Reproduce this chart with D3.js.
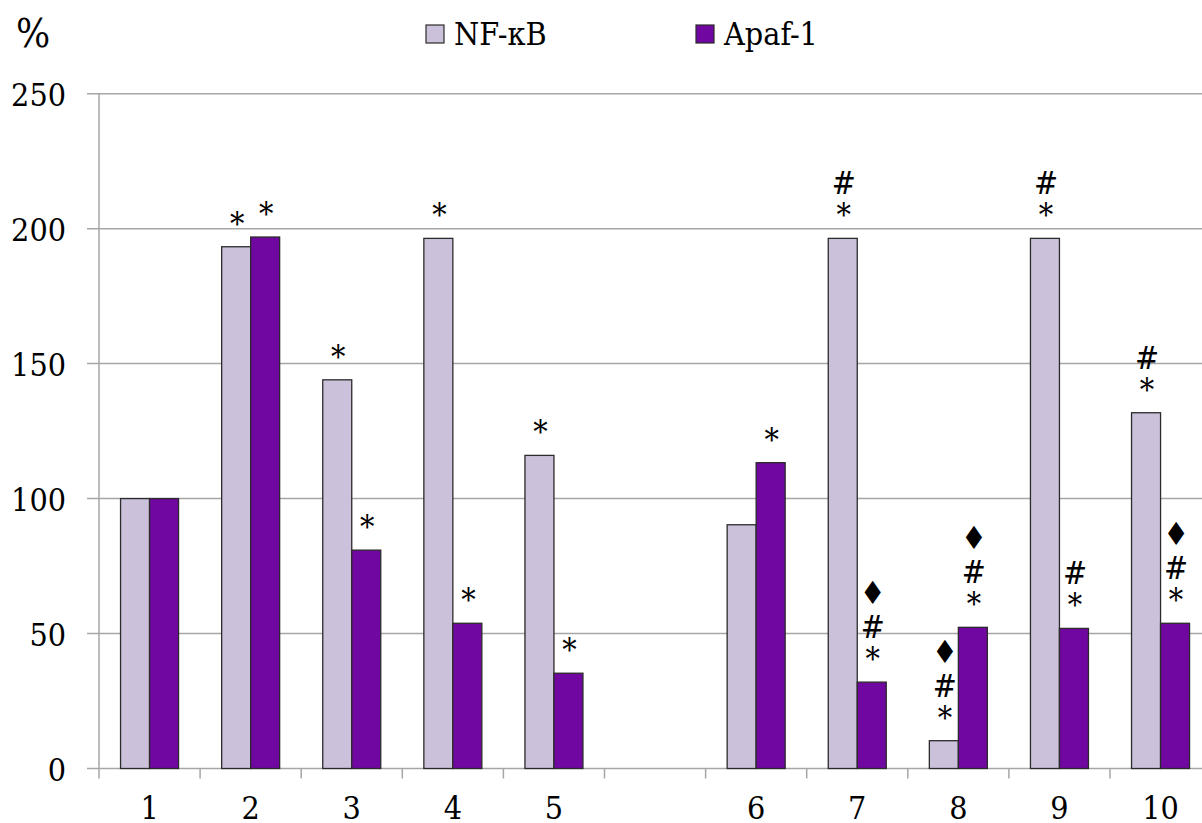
<!DOCTYPE html>
<html>
<head>
<meta charset="utf-8">
<script src="https://cdn.jsdelivr.net/npm/d3@7"></script>
<style>
  html, body { margin: 0; padding: 0; background: #fff; }
  svg { display: block; }
</style>
</head>
<body>
<svg id="chart" width="1202" height="823"></svg>
<script>
// Groups along the x axis; the empty slot separates the two series of experiments
const categories = ["1", "2", "3", "4", "5", "", "6", "7", "8", "9", "10"];
const seriesNames = ["NF-κB", "Apaf-1"];
const nfkbValues = [100, 193.3, 144.0, 196.4, 116.0, null, 90.3, 196.4, 10.3, 196.4, 131.8];
const apafValues = [100, 196.9, 80.9, 53.8, 35.3, null, 113.3, 32.0, 52.3, 51.9, 53.8];
// Significance marks above each bar, listed from the bar upwards
const nfkbMarks = [[], ["*"], ["*"], ["*"], ["*"], [], [], ["*", "#"], ["*", "#", "♦"], ["*", "#"], ["*", "#"]];
const apafMarks = [[], ["*"], ["*"], ["*"], ["*"], [], ["*"], ["*", "#", "♦"], ["*", "#", "♦"], ["*", "#"], ["*", "#", "♦"]];
const yTicks = [0, 50, 100, 150, 200, 250];
const yUnit = "%";

const colors = { "NF-κB": "#CBC1DA", "Apaf-1": "#7007A0" };
const serif = "'DejaVu Serif Condensed', 'DejaVu Serif', serif";

const svg = d3.select("#chart").attr("font-family", serif).attr("font-stretch", "condensed");
const plotLeft = 99, slot = 101.1;
const plotRight = plotLeft + slot * categories.length;
const plotTop = 93.7, plotBottom = 768.5;

const slotKeys = categories.map((c, i) => i);
const x0 = d3.scaleBand().domain(slotKeys).range([plotLeft, plotRight]).paddingInner(0).paddingOuter(0);
const x1 = d3.scaleBand().domain(seriesNames).range([0, x0.bandwidth()]).paddingInner(0).paddingOuter(0.743);
const y = d3.scaleLinear().domain([0, 250]).range([plotBottom, plotTop]);

// Horizontal gridlines (extend left of the axis as tick marks)
svg.append("g").selectAll("line").data(yTicks).join("line")
  .attr("x1", plotLeft - 12).attr("x2", plotRight)
  .attr("y1", d => y(d)).attr("y2", d => y(d))
  .attr("stroke", "#A6A6A6").attr("stroke-width", 1.5);

// Y axis line
svg.append("line")
  .attr("x1", plotLeft).attr("x2", plotLeft).attr("y1", y(250)).attr("y2", y(0))
  .attr("stroke", "#A6A6A6").attr("stroke-width", 1.5);

// X tick marks at slot boundaries
const boundaries = slotKeys.map(k => x0(k)).concat([plotRight]);
svg.append("g").selectAll("line").data(boundaries).join("line")
  .attr("x1", d => d).attr("x2", d => d)
  .attr("y1", y(0)).attr("y2", y(0) + 10)
  .attr("stroke", "#A6A6A6").attr("stroke-width", 1.5);

// Y tick labels
svg.append("g").selectAll("text").data(yTicks).join("text")
  .attr("x", 66).attr("y", d => y(d) + 12)
  .attr("text-anchor", "end").attr("font-size", 32)
  .text(d => d);

// X tick labels
svg.append("g").selectAll("text").data(slotKeys.filter(k => categories[k] !== "")).join("text")
  .attr("x", k => x0(k) + x0.bandwidth() / 2).attr("y", 819)
  .attr("text-anchor", "middle").attr("font-size", 32)
  .text(k => categories[k]);

// Bars
const rows = [];
slotKeys.forEach(k => {
  if (nfkbValues[k] != null) rows.push({ k, s: "NF-κB", v: nfkbValues[k], marks: nfkbMarks[k] });
  if (apafValues[k] != null) rows.push({ k, s: "Apaf-1", v: apafValues[k], marks: apafMarks[k] });
});

svg.append("g").selectAll("rect").data(rows).join("rect")
  .attr("x", d => x0(d.k) + x1(d.s))
  .attr("y", d => y(d.v))
  .attr("width", x1.bandwidth())
  .attr("height", d => y(0) - y(d.v))
  .attr("fill", d => colors[d.s])
  .attr("stroke", "#2b2b2b").attr("stroke-width", 1.3);

// Significance marks stacked above the bars
const markOffsets = { "*": 12, "#": 44, "♦": 78 };
const marks = [];
rows.forEach(d => d.marks.forEach(m => marks.push({ ...d, m })));
svg.append("g").selectAll("text").data(marks).join("text")
  .attr("x", d => x0(d.k) + x1(d.s) + x1.bandwidth() / 2 + 1)
  .attr("y", d => y(d.v) - markOffsets[d.m])
  .attr("text-anchor", "middle").attr("font-size", 32)
  .text(d => d.m);

// Unit label
svg.append("text").attr("x", 16).attr("y", 47).attr("font-size", 40).text(yUnit);

// Legend
const legendX = { "NF-κB": 426, "Apaf-1": 696 };
const lg = svg.append("g").selectAll("g").data(seriesNames).join("g")
  .attr("transform", d => `translate(${legendX[d]},25)`);
lg.append("rect").attr("width", 18).attr("height", 18)
  .attr("fill", d => colors[d]).attr("stroke", "#2b2b2b").attr("stroke-width", 1.2);
lg.append("text").attr("x", 28).attr("y", 20).attr("font-size", 32).text(d => d);
</script>
</body>
</html>
